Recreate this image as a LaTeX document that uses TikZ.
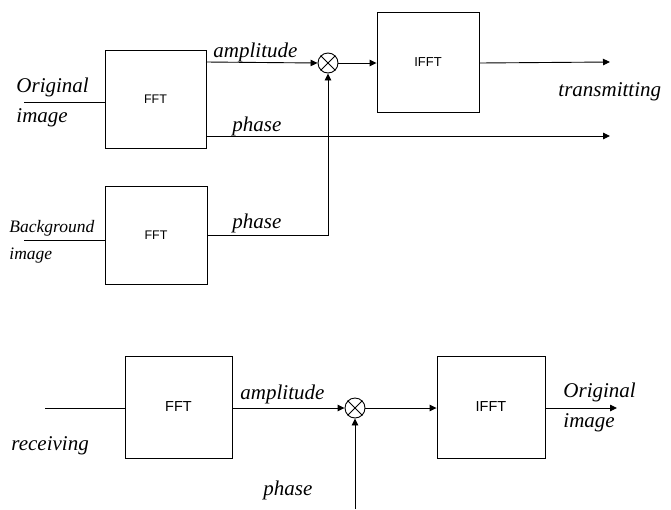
\documentclass[tikz,border=0pt]{standalone}
\usepackage{fontspec}
\setmainfont{Liberation Serif}
\newfontfamily\blockfont{Liberation Sans}
\usepackage{tikz}
\usetikzlibrary{arrows.meta, positioning, calc}

\begin{document}
\begin{tikzpicture}[x=1pt, y=-1pt, line width=0.9pt,
    block/.style={draw, inner sep=0pt, font=\blockfont\fontsize{12.5}{14}\selectfont},
    sblock/.style={block, font=\blockfont\fontsize{14.5}{17}\selectfont},
    mixer/.style={draw, circle, inner sep=0pt, minimum size=20pt},
    sig/.style={anchor=base west, inner sep=0pt, font=\fontsize{21}{24}\selectfont\itshape},
    arr/.style={-{Triangle[length=7pt, width=6.5pt]}}]
  \useasboundingbox (0,0) rectangle (671,509);

  % Sender: FFT of both images
  \node[block, minimum width=101pt, minimum height=98pt] (fft1) at (155.5,99) {FFT};
  \node[block, minimum width=102pt, minimum height=98pt] (fft2) at (156,235) {FFT};
  \node[mixer] (mix1) at (328,63) {};
  \node[block, minimum width=102pt, minimum height=100pt, font=\blockfont\fontsize{13}{15}\selectfont] (ifft1) at (428,62) {IFFT};
  \draw (mix1.north east) -- (mix1.south west) (mix1.north west) -- (mix1.south east);

  \coordinate (in1) at (24,102);
  \coordinate (in2) at (24,240);
  \coordinate (amp1) at (206,62);
  \coordinate (out1) at (610,62);
  \coordinate (out2) at (610,136);

  \draw (in1) -- (in1 -| fft1.west);
  \draw (in2) -- (in2 -| fft2.west);
  \draw[arr] (amp1) -- (mix1.west);
  \draw[arr] (fft1.east |- out2) -- (out2);
  \draw[arr] (fft2.east) -| (mix1.south);
  \draw[arr] (mix1.east) -- (mix1 -| ifft1.west);
  \draw[arr] (mix1 -| ifft1.east) -- (out1);

  \node[sig] (orig1a) at (16,92) {Original};
  \node[sig] (orig1b) at (16,122) {image};
  \node[sig, font=\fontsize{17.5}{20}\selectfont\itshape] (back1a) at (9,232) {Background};
  \node[sig, font=\fontsize{17.5}{20}\selectfont\itshape] (back1b) at (9,259) {image};
  \node[sig] (amplab1) at (213,57) {amplitude};
  \node[sig] (phlab1) at (232,131) {phase};
  \node[sig] (phlab2) at (232,228) {phase};
  \node[sig] (txlab) at (558,96) {transmitting};

  % Receiver
  \node[sblock, minimum width=107pt, minimum height=102pt] (fft3) at (178.5,407) {FFT};
  \node[mixer] (mix2) at (355,408) {};
  \node[sblock, minimum width=108pt, minimum height=102pt] (ifft2) at (491,407) {IFFT};
  \draw (mix2.north east) -- (mix2.south west) (mix2.north west) -- (mix2.south east);

  \coordinate (in3) at (45,408);
  \coordinate (out3) at (617,408);
  \coordinate (ph3) at (355,509);

  \draw (in3) -- (in3 -| fft3.west);
  \draw[arr] (mix2 -| fft3.east) -- (mix2.west);
  \draw[arr] (mix2.east) -- (mix2 -| ifft2.west);
  \draw[arr] (mix2 -| ifft2.east) -- (out3);
  \draw[arr] (ph3) -- (mix2.south);

  \node[sig] (rxlab) at (11,450) {receiving};
  \node[sig] (amplab2) at (240,399) {amplitude};
  \node[sig] (orig2a) at (563,397) {Original};
  \node[sig] (orig2b) at (563,427) {image};
  \node[sig] (phlab3) at (263,495) {phase};
\end{tikzpicture}
\end{document}
